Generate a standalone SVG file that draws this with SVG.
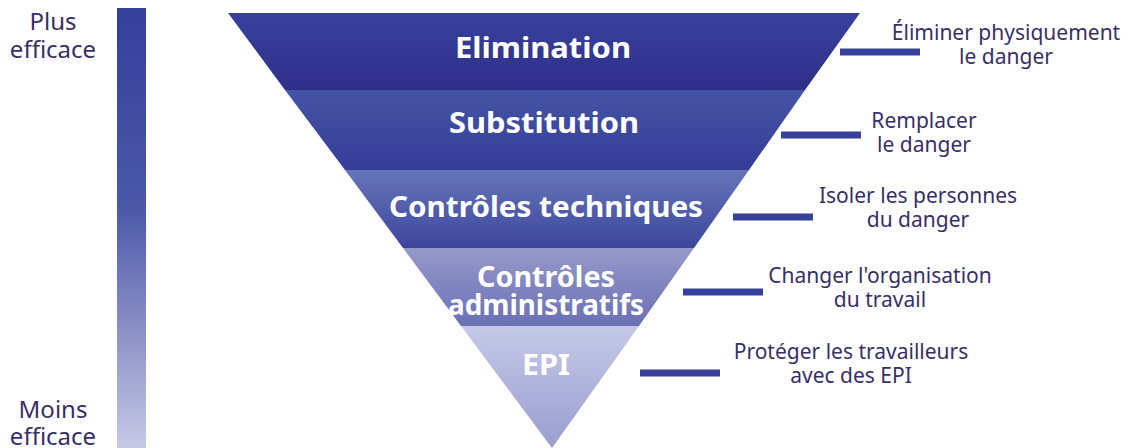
<svg xmlns="http://www.w3.org/2000/svg" width="1128" height="448" viewBox="0 0 1128 448">
<defs>
<linearGradient id="gBar" x1="0" y1="0" x2="0" y2="1">
<stop offset="0" stop-color="#35409a"/><stop offset="0.45" stop-color="#4a58a8"/><stop offset="0.75" stop-color="#8f94c8"/><stop offset="1" stop-color="#c6c9e6"/>
</linearGradient>
<linearGradient id="g1" x1="0" y1="0" x2="0" y2="1"><stop offset="0" stop-color="#37419b"/><stop offset="1" stop-color="#2f2f8b"/></linearGradient>
<linearGradient id="g2" x1="0" y1="0" x2="0" y2="1"><stop offset="0" stop-color="#4454a5"/><stop offset="1" stop-color="#353d98"/></linearGradient>
<linearGradient id="g3" x1="0" y1="0" x2="0" y2="1"><stop offset="0" stop-color="#6675b8"/><stop offset="1" stop-color="#3c469d"/></linearGradient>
<linearGradient id="g4" x1="0" y1="0" x2="0" y2="1"><stop offset="0" stop-color="#9699ca"/><stop offset="1" stop-color="#6a70b6"/></linearGradient>
<linearGradient id="g5" x1="0" y1="0" x2="0" y2="1"><stop offset="0" stop-color="#c5c9e7"/><stop offset="1" stop-color="#9a9dcf"/></linearGradient>
</defs>
<style>
.side{font-family:"Noto Sans","Open Sans",sans-serif;font-size:24px;fill:#372f67;text-anchor:middle}
.lbl{font-family:"Noto Sans","Open Sans",sans-serif;font-weight:bold;font-size:28px;fill:#ffffff;text-anchor:middle}
.desc{font-family:"Noto Sans","Open Sans",sans-serif;font-size:21px;fill:#372f67;text-anchor:middle}
.bar{stroke:#36409a;stroke-width:7;fill:none}
</style>
<g id="scale">
<rect x="117" y="8" width="29" height="440" fill="url(#gBar)"/>
<text class="side" x="53" y="30">Plus</text>
<text class="side" x="53" y="58">efficace</text>
<text class="side" x="53" y="418">Moins</text>
<text class="side" x="53" y="445">efficace</text>
</g>
<g id="elimination">
<polygon points="228,13 860,13 805,90 285,90" fill="url(#g1)"/>
<text class="lbl" x="543" y="58" textLength="176" lengthAdjust="spacingAndGlyphs">Elimination</text>
</g>
<g id="substitution">
<polygon points="285,90 805,90 749,170 345,170" fill="url(#g2)"/>
<text class="lbl" x="544" y="133" textLength="190" lengthAdjust="spacingAndGlyphs">Substitution</text>
</g>
<g id="controles-techniques">
<polygon points="345,170 749,170 694,248 403,248" fill="url(#g3)"/>
<text class="lbl" x="546" y="217" textLength="314" lengthAdjust="spacingAndGlyphs">Contrôles techniques</text>
</g>
<g id="controles-administratifs">
<polygon points="403,248 694,248 639,326 461,326" fill="url(#g4)"/>
<text class="lbl" x="546" y="287" font-size="26" textLength="138" lengthAdjust="spacingAndGlyphs">Contrôles</text>
<text class="lbl" x="546" y="315" font-size="26" textLength="196" lengthAdjust="spacingAndGlyphs">administratifs</text>
</g>
<g id="epi">
<polygon points="461,326 639,326 552,448" fill="url(#g5)"/>
<text class="lbl" x="546" y="375" textLength="48" lengthAdjust="spacingAndGlyphs">EPI</text>
</g>
<g id="connectors">
<line class="bar" x1="840" y1="52" x2="920" y2="52"/>
<line class="bar" x1="781" y1="135" x2="861" y2="135"/>
<line class="bar" x1="733" y1="217" x2="813" y2="217"/>
<line class="bar" x1="683" y1="292" x2="763" y2="292"/>
<line class="bar" x1="640" y1="373" x2="720" y2="373"/>
</g>
<g id="descriptions">
<text class="desc" x="1006" y="40">Éliminer physiquement</text>
<text class="desc" x="1006" y="64">le danger</text>
<text class="desc" x="924" y="128">Remplacer</text>
<text class="desc" x="924" y="152">le danger</text>
<text class="desc" x="918" y="203">Isoler les personnes</text>
<text class="desc" x="918" y="227">du danger</text>
<text class="desc" x="880" y="283">Changer l'organisation</text>
<text class="desc" x="880" y="307">du travail</text>
<text class="desc" x="851" y="359">Protéger les travailleurs</text>
<text class="desc" x="851" y="383">avec des EPI</text>
</g>
</svg>
